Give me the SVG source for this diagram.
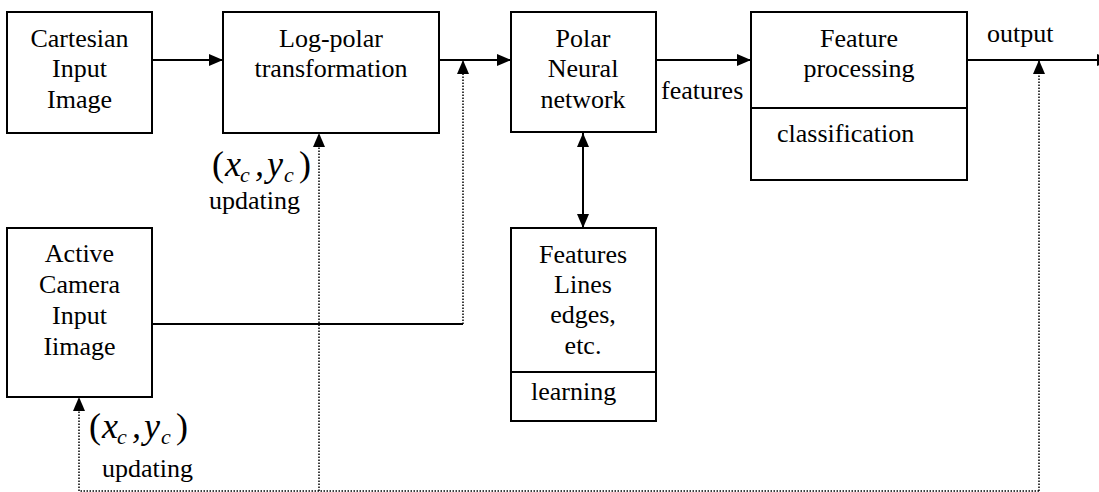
<svg xmlns="http://www.w3.org/2000/svg" width="1099" height="492" viewBox="0 0 1099 492" font-family="Liberation Serif, Times New Roman, serif">
  <style>
    text { fill: #000; }
    .box { fill: #fff; stroke: #000; stroke-width: 2; }
    .div { stroke: #000; stroke-width: 2; }
    .lbl { font-size: 26px; }
    .mid { text-anchor: middle; }
    .wire { fill: none; stroke: #000; stroke-width: 2; }
    .dots { fill: none; stroke: #000; stroke-width: 1.5; stroke-dasharray: 1.5 1.5; }
    .par { font-size: 36px; }
    .var { font-size: 36px; font-style: italic; }
    .sub { font-size: 22px; font-style: italic; }
  </style>
  <defs>
    <marker id="head" markerUnits="userSpaceOnUse" markerWidth="14" markerHeight="12" refX="14" refY="6" orient="auto">
      <path d="M0,0 L14,6 L0,12 z" fill="#000"/>
    </marker>
    <marker id="tail" markerUnits="userSpaceOnUse" markerWidth="14" markerHeight="12" refX="0" refY="6" orient="auto">
      <path d="M14,0 L0,6 L14,12 z" fill="#000"/>
    </marker>
  </defs>

  <rect width="1099" height="492" fill="#fff"/>

  <!-- connectors -->
  <g id="connectors">
    <path class="wire" d="M152,60 H223" marker-end="url(#head)"/>
    <path class="wire" d="M439,60 H511" marker-end="url(#head)"/>
    <path class="wire" d="M656,60 H751" marker-end="url(#head)"/>
    <path class="wire" d="M967,60 H1111" marker-end="url(#head)"/>
    <path class="wire" d="M583,133 V228" marker-start="url(#tail)" marker-end="url(#head)"/>
    <path class="wire" d="M152,324 H463"/>
    <path class="dots" d="M463,324 V60" marker-end="url(#head)"/>
    <path class="dots" d="M1039,491 H79 V397" marker-end="url(#head)"/>
    <path class="dots" d="M1039,491 V60" marker-end="url(#head)"/>
    <path class="dots" d="M319,491 V133" marker-end="url(#head)"/>
    <text class="lbl" x="661" y="99">features</text>
    <text class="lbl" x="987" y="42">output</text>
  </g>

  <g id="cartesian-input">
    <rect class="box" x="7" y="12" width="145" height="121"/>
    <text class="lbl mid" x="79.5" y="47">Cartesian</text>
    <text class="lbl mid" x="79.5" y="77">Input</text>
    <text class="lbl mid" x="79.5" y="108">Image</text>
  </g>

  <g id="log-polar">
    <rect class="box" x="223" y="12" width="216" height="121"/>
    <text class="lbl mid" x="331" y="47">Log-polar</text>
    <text class="lbl mid" x="331" y="77">transformation</text>
  </g>

  <g id="polar-nn">
    <rect class="box" x="511" y="12" width="145" height="120"/>
    <text class="lbl mid" x="583" y="47">Polar</text>
    <text class="lbl mid" x="583" y="77">Neural</text>
    <text class="lbl mid" x="583" y="108">network</text>
  </g>

  <g id="feature-processing">
    <rect class="box" x="751" y="12" width="216" height="168"/>
    <line class="div" x1="751" y1="108" x2="967" y2="108"/>
    <text class="lbl mid" x="859" y="47">Feature</text>
    <text class="lbl mid" x="859" y="77">processing</text>
    <text class="lbl" x="777" y="142">classification</text>
  </g>

  <g id="active-camera">
    <rect class="box" x="7" y="228" width="145" height="169"/>
    <text class="lbl mid" x="79.5" y="262">Active</text>
    <text class="lbl mid" x="79.5" y="293">Camera</text>
    <text class="lbl mid" x="79.5" y="324">Input</text>
    <text class="lbl mid" x="79.5" y="355">Iimage</text>
  </g>

  <g id="features-memory">
    <rect class="box" x="511" y="228" width="145" height="193"/>
    <line class="div" x1="511" y1="372" x2="656" y2="372"/>
    <text class="lbl mid" x="583" y="263">Features</text>
    <text class="lbl mid" x="583" y="293">Lines</text>
    <text class="lbl mid" x="583" y="323">edges,</text>
    <text class="lbl mid" x="583" y="354">etc.</text>
    <text class="lbl" x="531" y="400">learning</text>
  </g>

  <!-- centre-point update labels: (x_c , y_c) -->
  <g id="update-logpolar">
    <text y="176"><tspan class="par" x="212">(</tspan><tspan class="var" x="225">x</tspan><tspan class="sub" x="240" y="182">c</tspan><tspan class="var" x="255" y="176">,</tspan><tspan class="var" x="267">y</tspan><tspan class="sub" x="284" y="182">c</tspan><tspan class="par" x="299" y="176">)</tspan></text>
    <text class="lbl" x="209" y="209">updating</text>
  </g>

  <g id="update-camera">
    <text y="438"><tspan class="par" x="89">(</tspan><tspan class="var" x="102">x</tspan><tspan class="sub" x="117" y="444">c</tspan><tspan class="var" x="132" y="438">,</tspan><tspan class="var" x="144">y</tspan><tspan class="sub" x="161" y="444">c</tspan><tspan class="par" x="176" y="438">)</tspan></text>
    <text class="lbl" x="102" y="477">updating</text>
  </g>
</svg>
